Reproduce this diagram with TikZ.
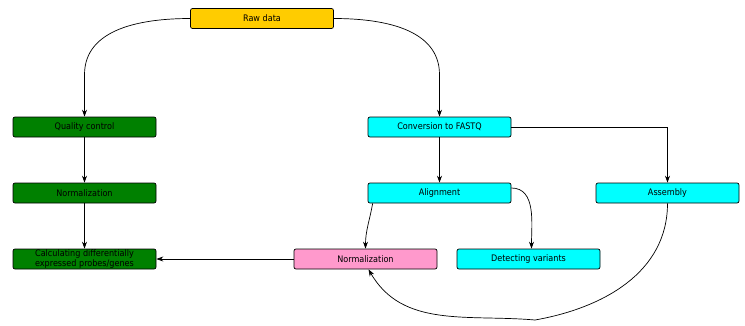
\documentclass[tikz,border=0pt]{standalone}
\usepackage{fontspec}
\setmainfont{DejaVu Sans Condensed}
\usetikzlibrary{arrows.meta}

\definecolor{rawyellow}{HTML}{FFCC00}
\definecolor{arraygreen}{HTML}{008000}
\definecolor{seqcyan}{HTML}{00FFFF}
\definecolor{normpink}{HTML}{FF99CC}

\begin{document}
\begin{tikzpicture}[
  x=1pt, y=-1pt,
  font=\fontsize{9}{10.5}\selectfont,
  >=Stealth,
  box/.style={draw, line width=0.7pt, rounded corners=2pt, align=center,
    inner sep=0pt, minimum width=143pt, minimum height=20pt},
  raw/.style={box, fill=rawyellow},
  arr/.style={box, fill=arraygreen},
  seq/.style={box, fill=seqcyan},
  norm/.style={box, fill=normpink},
  link/.style={-{Stealth[length=7pt, width=5pt]}, line width=0.7pt},
]
  \useasboundingbox (0,0) rectangle (745,325);

  \node[raw] (raw) at (262,18.5) {Raw data};

  \node[arr] (qc)   at (84.5,127) {Quality control};
  \node[arr] (anorm) at (84.5,193) {Normalization};
  \node[arr] (calc) at (84.5,259) {Calculating differentially\\expressed probes/genes};

  \node[seq] (conv)   at (439.5,127) {Conversion to FASTQ};
  \node[seq] (align)  at (439.5,193) {Alignment};
  \node[seq] (asm)    at (667.5,193) {Assembly};
  \node[norm] (snorm) at (365.5,259) {Normalization};
  \node[seq] (detect) at (528.5,259) {Detecting variants};

  \coordinate (dip) at (535,320);

  \draw[link] (raw.west) to[out=180, in=90] ([yshift=42pt]qc.north) -- (qc.north);
  \draw[link] (raw.east) to[out=0, in=90] ([yshift=42pt]conv.north) -- (conv.north);

  \draw[link] (qc) -- (anorm);
  \draw[link] (anorm) -- (calc);

  \draw[link] (conv) -- (align);
  \draw[link] (conv.east) -| (asm.north);
  \draw[link] ([yshift=5pt]align.east) to[out=0, in=90] ([xshift=3pt]detect.north);
  \draw[link] ([xshift=5pt]align.south west) to[out=-100, in=90] (snorm.north);
  \draw[link] (snorm) -- (calc);
  \draw[link] (asm.south) to[out=-90, in=10] (dip)
    to[out=175, in=-60] ([xshift=3pt]snorm.south);
\end{tikzpicture}
\end{document}
